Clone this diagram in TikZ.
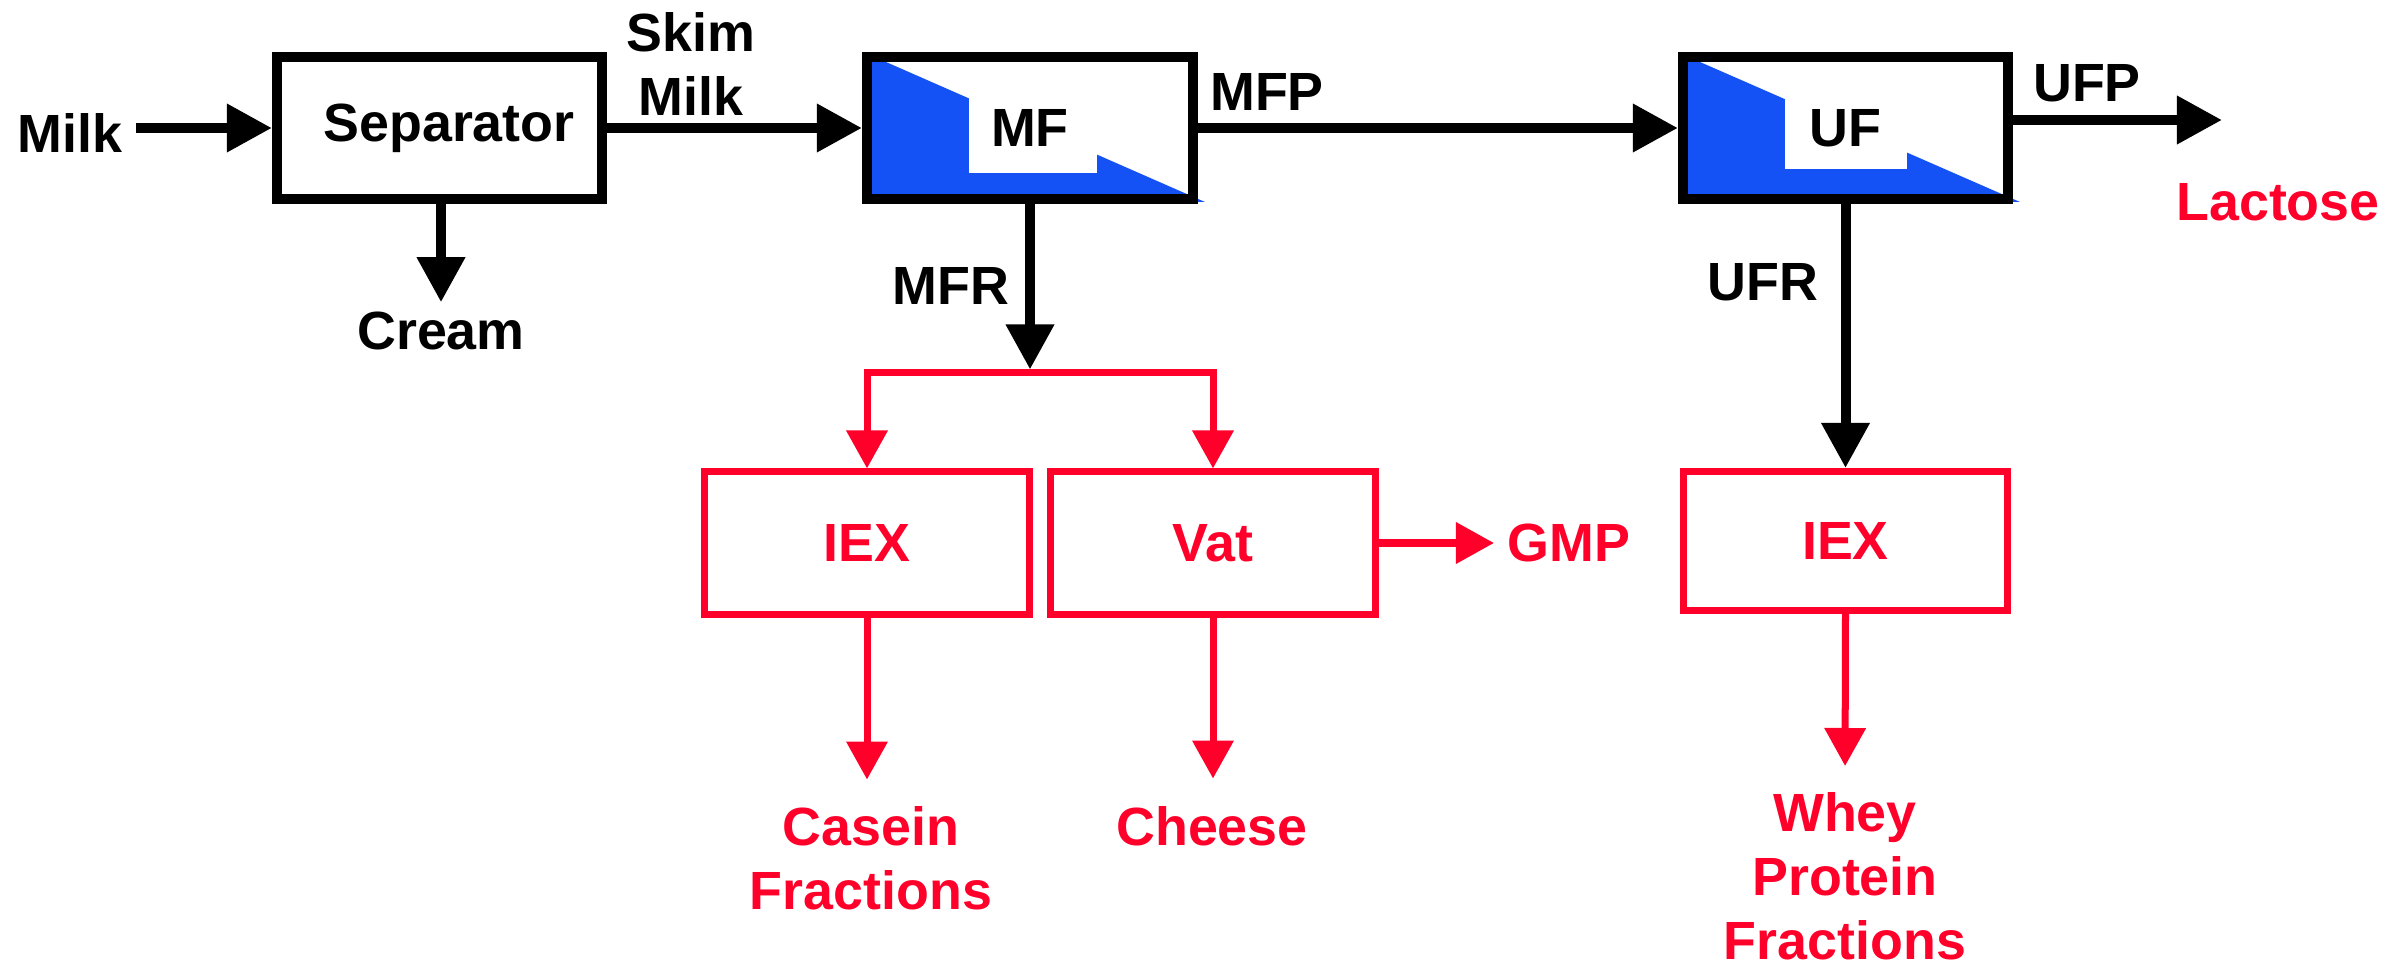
\documentclass[tikz,border=0pt]{standalone}
\usepackage{fontspec}
\setmainfont{Liberation Sans}
\usetikzlibrary{arrows.meta}
\definecolor{flowred}{RGB}{255,0,42}
\definecolor{membblue}{RGB}{20,82,245}
\begin{document}
\begin{tikzpicture}[x=0.01cm, y=-0.01cm,
  lbl/.style={font=\fontsize{15.3}{18.2}\selectfont\bfseries, inner sep=0pt, align=center},
  redlbl/.style={lbl, text=flowred},
  blkbox/.style={lbl, draw=black, line width=0.1cm, minimum height=1.42cm},
  redbox/.style={lbl, text=flowred, draw=flowred, line width=0.07cm, minimum width=3.24cm, minimum height=1.42cm},
  blkarrow/.style={draw=black, line width=0.1cm, -{Triangle[length=0.45cm, width=0.46cm]}},
  redarrow/.style={draw=flowred, line width=0.07cm, -{Triangle[length=0.38cm, width=0.40cm]}},
]
\useasboundingbox (0,0) rectangle (2408,976);

% membrane fills
\fill[membblue] (867,62) -- (886,62) -- (1205,202) -- (867,202) -- cycle;
\fill[white] (969,62) rectangle (1097,173);
\fill[membblue] (1683,62) -- (1700,62) -- (2020,202) -- (1683,202) -- cycle;
\fill[white] (1785,62) rectangle (1907,169);

% unit boxes
\node[blkbox, minimum width=3.25cm] (sep) at (439.5,128) {\hspace*{0.19cm}Separator};
\node[blkbox, minimum width=3.26cm] (mf) at (1030,128) {MF};
\node[blkbox, minimum width=3.25cm] (uf) at (1845.5,128) {UF};
\node[redbox] (iex1) at (867,543) {IEX};
\node[redbox] (vat) at (1213,543) {Vat};
\node[redbox, minimum height=1.39cm] (iex2) at (1845.5,541) {IEX};

% labels
\node[lbl] (milk) at (70,133) {Milk};
\node[lbl] (skim) at (691,64.5) {Skim\\Milk};
\node[lbl] (cream) at (441,331) {Cream};
\node[lbl] (mfp) at (1267,92) {MFP};
\node[lbl] (ufp) at (2087,83) {UFP};
\node[redlbl] (lactose) at (2278,202.5) {Lactose};
\node[lbl] (mfr) at (951,286) {MFR};
\node[lbl] (ufr) at (1763,282) {UFR};
\node[redlbl, anchor=west] (gmp) at (1507,543) {GMP};
\node[redlbl] (casein) at (871,858) {Casein\\Fractions};
\node[redlbl] (cheese) at (1212,826) {Cheese};
\node[redlbl] (whey) at (1845,876.5) {Whey\\Protein\\Fractions};

\coordinate (split) at (1030,372.5);
\coordinate (ufpend) at (2222,120);

% connectors
\draw[blkarrow, shorten <=0.13cm] (milk.east |- sep.west) -- (sep.west);
\draw[blkarrow] (sep.east) -- (mf.west);
\draw[blkarrow] (mf.east) -- (uf.west);
\draw[blkarrow] (uf.east |- ufpend) -- (ufpend);
\draw[blkarrow, shorten >=0.09cm] (sep.south -| cream.north) -- (cream.north);
\draw[blkarrow, shorten >=0.03cm] (mf.south) -- (split);
\draw[blkarrow] (uf.south) -- (iex2.north);
\draw[redarrow] (split) -| (iex1.north);
\draw[redarrow] (split) -| (vat.north);
\draw[redarrow, shorten >=0.13cm] (vat.east) -- (gmp.west);
\draw[redarrow, shorten >=0.26cm] (iex1.south) -- (iex1.south |- casein.north);
\draw[redarrow, shorten >=0.27cm] (vat.south) -- (vat.south |- cheese.north);
\draw[redarrow, shorten >=0.26cm] (iex2.south) -- (whey.north);
\end{tikzpicture}
\end{document}
